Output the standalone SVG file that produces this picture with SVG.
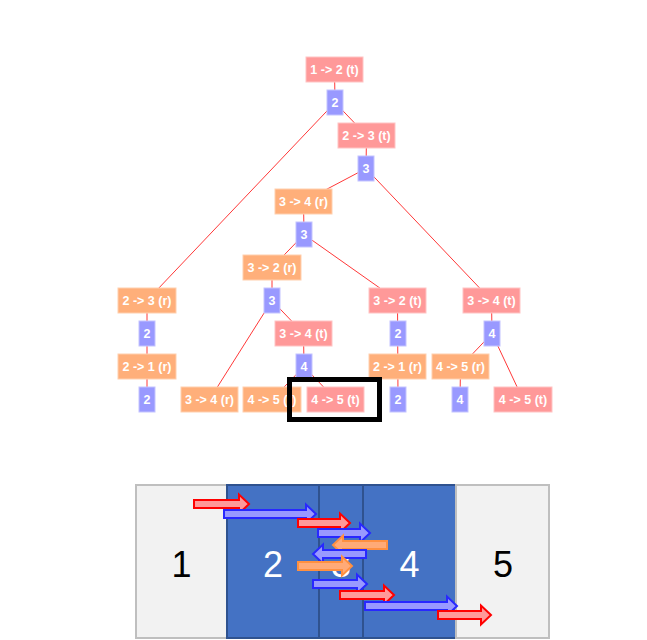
<svg xmlns="http://www.w3.org/2000/svg" width="647" height="640" viewBox="0 0 647 640">
<style>
.t{fill:#ff9999;stroke:#ffc4c4;stroke-width:1}
.r{fill:#ffaf7a;stroke:#ffcfae;stroke-width:1}
.n{fill:#9999ff;stroke:#c4c4ff;stroke-width:1}
.lbl{font-family:"Liberation Sans",Arial,sans-serif;font-size:12.5px;font-weight:bold;fill:#ffffff;text-anchor:middle}
.e{stroke:#ff3838;stroke-width:1;fill:none}
.cellg{fill:#f2f2f2;stroke:#bfbfbf;stroke-width:2}
.cellb{fill:#4472c4;stroke:#2f528f;stroke-width:2}
.big{font-family:"Liberation Sans",Arial,sans-serif;font-size:36px;text-anchor:middle}
.ar{fill:#ff9999;stroke:#ff0000;stroke-width:2}
.ab{fill:#9999ff;stroke:#2828ff;stroke-width:2}
.ao{fill:#ffaa77;stroke:#ff9040;stroke-width:2}
</style>
<rect width="647" height="640" fill="#ffffff"/>
<g id="connectors">
<line class="e" x1="334.5" y1="69.5" x2="335" y2="102.5"/>
<line class="e" x1="335" y1="102.5" x2="366.5" y2="135.5"/>
<line class="e" x1="335" y1="102.5" x2="147" y2="300.5"/>
<line class="e" x1="366.5" y1="135.5" x2="366" y2="168.5"/>
<line class="e" x1="366" y1="168.5" x2="303.5" y2="201.5"/>
<line class="e" x1="366" y1="168.5" x2="491.5" y2="300.5"/>
<line class="e" x1="303.5" y1="201.5" x2="304" y2="234.5"/>
<line class="e" x1="304" y1="234.5" x2="272" y2="267.5"/>
<line class="e" x1="304" y1="234.5" x2="397.5" y2="300.5"/>
<line class="e" x1="272" y1="267.5" x2="272" y2="300.5"/>
<line class="e" x1="272" y1="300.5" x2="209.5" y2="399.5"/>
<line class="e" x1="272" y1="300.5" x2="303.5" y2="333.5"/>
<line class="e" x1="303.5" y1="333.5" x2="304" y2="366.5"/>
<line class="e" x1="304" y1="366.5" x2="272" y2="399.5"/>
<line class="e" x1="304" y1="366.5" x2="335.5" y2="399.5"/>
<line class="e" x1="147" y1="300.5" x2="147" y2="399.5"/>
<line class="e" x1="397.5" y1="300.5" x2="398" y2="399.5"/>
<line class="e" x1="491.5" y1="300.5" x2="492" y2="333.5"/>
<line class="e" x1="492" y1="333.5" x2="460.5" y2="366.5"/>
<line class="e" x1="492" y1="333.5" x2="523" y2="399.5"/>
<line class="e" x1="460.5" y1="366.5" x2="460" y2="399.5"/>
</g>
<g id="n1"><rect class="t" x="306" y="57" width="57" height="25"/><text class="lbl" x="334.5" y="74">1 -&gt; 2 (t)</text></g>
<g id="n2"><rect class="n" x="327" y="90" width="16" height="25"/><text class="lbl" x="335" y="107">2</text></g>
<g id="n3"><rect class="t" x="338" y="123" width="57" height="25"/><text class="lbl" x="366.5" y="140">2 -&gt; 3 (t)</text></g>
<g id="n4"><rect class="n" x="358" y="156" width="16" height="25"/><text class="lbl" x="366" y="173">3</text></g>
<g id="n5"><rect class="r" x="275" y="189" width="57" height="25"/><text class="lbl" x="303.5" y="206">3 -&gt; 4 (r)</text></g>
<g id="n6"><rect class="n" x="296" y="222" width="16" height="25"/><text class="lbl" x="304" y="239">3</text></g>
<g id="n7"><rect class="r" x="243" y="255" width="58" height="25"/><text class="lbl" x="272" y="272">3 -&gt; 2 (r)</text></g>
<g id="n8"><rect class="n" x="264" y="288" width="16" height="25"/><text class="lbl" x="272" y="305">3</text></g>
<g id="n9"><rect class="r" x="118" y="288" width="58" height="25"/><text class="lbl" x="147" y="305">2 -&gt; 3 (r)</text></g>
<g id="n10"><rect class="n" x="139" y="321" width="16" height="25"/><text class="lbl" x="147" y="338">2</text></g>
<g id="n11"><rect class="r" x="118" y="354" width="58" height="25"/><text class="lbl" x="147" y="371">2 -&gt; 1 (r)</text></g>
<g id="n12"><rect class="n" x="139" y="387" width="16" height="25"/><text class="lbl" x="147" y="404">2</text></g>
<g id="n13"><rect class="t" x="369" y="288" width="57" height="25"/><text class="lbl" x="397.5" y="305">3 -&gt; 2 (t)</text></g>
<g id="n14"><rect class="n" x="390" y="321" width="16" height="25"/><text class="lbl" x="398" y="338">2</text></g>
<g id="n15"><rect class="r" x="369" y="354" width="57" height="25"/><text class="lbl" x="397.5" y="371">2 -&gt; 1 (r)</text></g>
<g id="n16"><rect class="n" x="390" y="387" width="16" height="25"/><text class="lbl" x="398" y="404">2</text></g>
<g id="n17"><rect class="t" x="463" y="288" width="57" height="25"/><text class="lbl" x="491.5" y="305">3 -&gt; 4 (t)</text></g>
<g id="n18"><rect class="n" x="484" y="321" width="16" height="25"/><text class="lbl" x="492" y="338">4</text></g>
<g id="n19"><rect class="r" x="432" y="354" width="57" height="25"/><text class="lbl" x="460.5" y="371">4 -&gt; 5 (r)</text></g>
<g id="n20"><rect class="n" x="452" y="387" width="16" height="25"/><text class="lbl" x="460" y="404">4</text></g>
<g id="n21"><rect class="t" x="494" y="387" width="58" height="25"/><text class="lbl" x="523" y="404">4 -&gt; 5 (t)</text></g>
<g id="n22"><rect class="t" x="275" y="321" width="57" height="25"/><text class="lbl" x="303.5" y="338">3 -&gt; 4 (t)</text></g>
<g id="n23"><rect class="n" x="296" y="354" width="16" height="25"/><text class="lbl" x="304" y="371">4</text></g>
<g id="n24"><rect class="r" x="181" y="387" width="57" height="25"/><text class="lbl" x="209.5" y="404">3 -&gt; 4 (r)</text></g>
<g id="n25"><rect class="r" x="243" y="387" width="58" height="25"/><text class="lbl" x="272" y="404">4 -&gt; 5 (r)</text></g>
<g id="n26"><rect class="t" x="307" y="387" width="57" height="25"/><text class="lbl" x="335.5" y="404">4 -&gt; 5 (t)</text></g>
<rect id="highlight" x="289.5" y="379.5" width="90" height="40" fill="none" stroke="#000000" stroke-width="5"/>
<g id="cells">
<rect class="cellg" x="136" y="485" width="91" height="153"/>
<rect class="cellb" x="227" y="485" width="92" height="153"/>
<rect class="cellb" x="319" y="485" width="44" height="153"/>
<rect class="cellb" x="363" y="485" width="93" height="153"/>
<rect class="cellg" x="456" y="485" width="93" height="153"/>
<text class="big" x="181.5" y="577" fill="#000000">1</text>
<text class="big" x="273" y="577" fill="#ffffff">2</text>
<text class="big" x="341" y="577" fill="#ffffff">3</text>
<text class="big" x="409.5" y="577" fill="#ffffff">4</text>
<text class="big" x="503" y="577" fill="#000000">5</text>
</g>
<g id="arrows">
<path class="ar" d="M194,500 H239 V494.5 L249,504 L239,513.5 V508 H194 Z"/>
<path class="ab" d="M224,510 H306 V504.5 L316,514 L306,523.5 V518 H224 Z"/>
<path class="ar" d="M298,519 H340 V513.5 L350,523 L340,532.5 V527 H298 Z"/>
<path class="ab" d="M318,529 H360 V523.5 L370,533 L360,542.5 V537 H318 Z"/>
<path class="ao" d="M387,541 H343 V535.5 L333,545 L343,554.5 V549 H387 Z"/>
<path class="ab" d="M366,550 H323 V544.5 L313,554 L323,563.5 V558 H366 Z"/>
<path class="ao" d="M298,562 H342 V556.5 L352,566 L342,575.5 V570 H298 Z"/>
<path class="ab" d="M313,580 H357 V574.5 L367,584 L357,593.5 V588 H313 Z"/>
<path class="ar" d="M340,591 H384 V585.5 L394,595 L384,604.5 V599 H340 Z"/>
<path class="ab" d="M365,602 H447 V596.5 L457,606 L447,615.5 V610 H365 Z"/>
<path class="ar" d="M438,611 H481 V605.5 L491,615 L481,624.5 V619 H438 Z"/>
</g>
</svg>
